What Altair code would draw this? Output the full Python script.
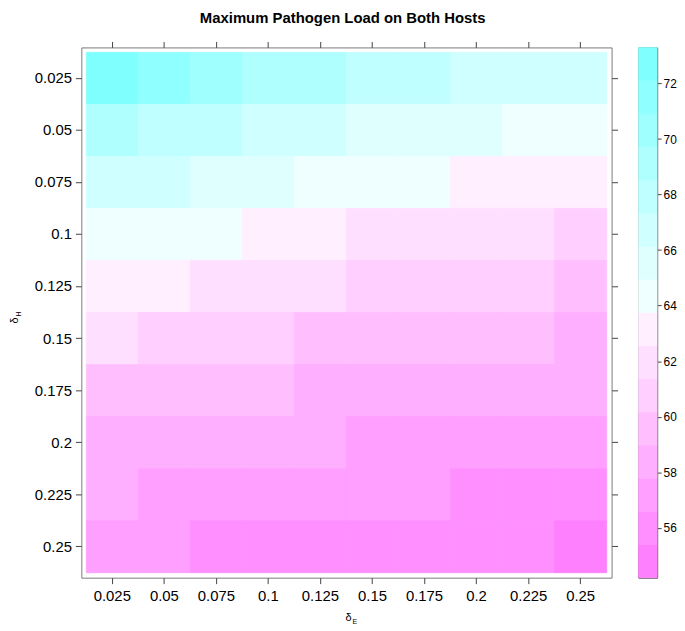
import altair as alt
import pandas as pd

# ---- data ----
delta_E = ["0.025", "0.05", "0.075", "0.1", "0.125", "0.15", "0.175", "0.2", "0.225", "0.25"]
delta_H = ["0.025", "0.05", "0.075", "0.1", "0.125", "0.15", "0.175", "0.2", "0.225", "0.25"]

# rows = delta_H (top to bottom), columns = delta_E (left to right)
load_h0025 = [73.1, 71.8, 70.6, 69.5, 69.0, 68.2, 67.6, 67.1, 66.8, 66.4]
load_h0050 = [69.2, 68.3, 67.8, 67.1, 66.7, 66.0, 65.6, 65.2, 64.7, 64.3]
load_h0075 = [66.9, 66.4, 65.8, 65.2, 64.8, 64.4, 64.0, 63.6, 63.2, 62.9]
load_h0100 = [64.6, 64.2, 63.9, 63.5, 63.0, 62.4, 62.1, 61.9, 61.6, 61.1]
load_h0125 = [63.4, 62.9, 62.4, 62.0, 61.6, 61.2, 60.9, 60.6, 60.3, 59.8]
load_h0150 = [62.0, 61.3, 60.9, 60.4, 60.0, 59.7, 59.5, 59.3, 59.1, 58.7]
load_h0175 = [60.1, 59.8, 59.5, 59.2, 58.9, 58.7, 58.5, 58.3, 58.1, 57.9]
load_h0200 = [58.9, 58.7, 58.4, 58.2, 58.0, 57.7, 57.5, 57.3, 57.0, 56.8]
load_h0225 = [58.0, 57.7, 57.4, 57.2, 57.0, 56.9, 56.7, 56.5, 56.2, 55.9]
load_h0250 = [57.0, 56.7, 56.4, 56.3, 56.1, 56.0, 55.8, 55.7, 55.5, 54.3]
load_rows = [load_h0025, load_h0050, load_h0075, load_h0100, load_h0125,
             load_h0150, load_h0175, load_h0200, load_h0225, load_h0250]

# reversed cm.colors(16): magenta (low) -> cyan (high)
palette = ["#FF80FF", "#FF8FFF", "#FF9FFF", "#FFAFFF", "#FFBFFF", "#FFCFFF", "#FFDFFF", "#FFEFFF",
           "#EFFFFF", "#DFFFFF", "#CFFFFF", "#BFFFFF", "#AFFFFF", "#9FFFFF", "#8FFFFF", "#80FFFF"]
scale_lo, scale_hi = 54.2, 73.3
legend_ticks = [56, 58, 60, 62, 64, 66, 68, 70, 72]
title_text = "Maximum Pathogen Load on Both Hosts"

FONT = "Liberation Sans"
W = H = 535

rows = []
for i, h in enumerate(delta_H):
    for j, e in enumerate(delta_E):
        rows.append({"dE": e, "dH": h, "load": load_rows[i][j]})
df = pd.DataFrame(rows)

color_scale = alt.Scale(type="quantize", domain=[scale_lo, scale_hi], range=palette, nice=False)
xs = alt.Scale(paddingInner=0, paddingOuter=0.095)
ys = alt.Scale(paddingInner=0, paddingOuter=0.095)

ax_common = dict(title=None, domain=False, grid=False, tickSize=6, tickColor="#444",
                 labelFont=FONT, labelFontSize=15, labelColor="black")

heat = alt.Chart(df).mark_rect(strokeWidth=0.8).encode(
    x=alt.X("dE:O", sort=delta_E, scale=xs,
            axis=alt.Axis(orient="bottom", labelAngle=0, labelPadding=5, **ax_common)),
    y=alt.Y("dH:O", sort=delta_H, scale=ys,
            axis=alt.Axis(orient="left", labelPadding=4, **ax_common)),
    color=alt.Color("load:Q", scale=color_scale, legend=None),
    stroke=alt.Stroke("load:Q", scale=color_scale, legend=None),
)

ticks_only = alt.Chart(df).mark_rect(opacity=0).encode(
    x=alt.X("dE:O", sort=delta_E, scale=xs,
            axis=alt.Axis(orient="top", labels=False, title=None, domain=False, grid=False,
                          tickSize=6, tickColor="#444")),
    y=alt.Y("dH:O", sort=delta_H, scale=ys,
            axis=alt.Axis(orient="right", labels=False, title=None, domain=False, grid=False,
                          tickSize=6, tickColor="#444")),
)

xt_main = alt.Chart(pd.DataFrame({"t": ["δ"]})).mark_text(
    font=FONT, fontSize=11, align="center", baseline="middle", color="black"
).encode(x=alt.value(W / 2 + 2), y=alt.value(H + 41), text="t:N")
xt_sub = alt.Chart(pd.DataFrame({"t": ["E"]})).mark_text(
    font=FONT, fontSize=7, align="left", baseline="middle", color="black"
).encode(x=alt.value(W / 2 + 6), y=alt.value(H + 45), text="t:N")

yt_main = alt.Chart(pd.DataFrame({"t": ["δ"]})).mark_text(
    font=FONT, fontSize=11, align="center", baseline="middle", angle=270, color="black"
).encode(x=alt.value(-67), y=alt.value(H / 2 + 8), text="t:N")
yt_sub = alt.Chart(pd.DataFrame({"t": ["H"]})).mark_text(
    font=FONT, fontSize=7, align="left", baseline="middle", angle=270, color="black"
).encode(x=alt.value(-63), y=alt.value(H / 2 + 4), text="t:N")

heat_layer = alt.layer(heat, ticks_only, xt_main, xt_sub, yt_main, yt_sub).resolve_axis(
    x="independent", y="independent"
).properties(width=W, height=H, view=alt.ViewBackground(stroke="#7a7a7a", strokeWidth=1))

step = (scale_hi - scale_lo) / len(palette)
leg_df = pd.DataFrame({
    "lo": [scale_lo + k * step for k in range(len(palette))],
    "hi": [scale_lo + (k + 1) * step for k in range(len(palette))],
    "mid": [scale_lo + (k + 0.5) * step for k in range(len(palette))],
})

legend = alt.Chart(leg_df).mark_rect(strokeWidth=0.6).encode(
    y=alt.Y("lo:Q", scale=alt.Scale(domain=[scale_lo, scale_hi], nice=False, zero=False),
            axis=alt.Axis(orient="right", values=legend_ticks, title=None, domain=False, grid=False,
                          tickSize=4, tickColor="#444", labelPadding=2, labelFont=FONT,
                          labelFontSize=12, labelColor="black")),
    y2="hi:Q",
    x=alt.value(0), x2=alt.value(19),
    color=alt.Color("mid:Q", scale=color_scale, legend=None),
    stroke=alt.Stroke("mid:Q", scale=color_scale, legend=None),
).properties(width=19, height=H, view=alt.ViewBackground(stroke="#444", strokeWidth=1))

chart = alt.hconcat(heat_layer, legend, spacing=19).properties(
    title=alt.TitleParams(title_text, font=FONT, fontSize=15, fontWeight="bold",
                          anchor="middle", offset=15, color="black"),
    padding=0,
).configure_scale(bandPaddingInner=0)

chart.save("out.html", embed_options={"renderer": "svg", "actions": False})
